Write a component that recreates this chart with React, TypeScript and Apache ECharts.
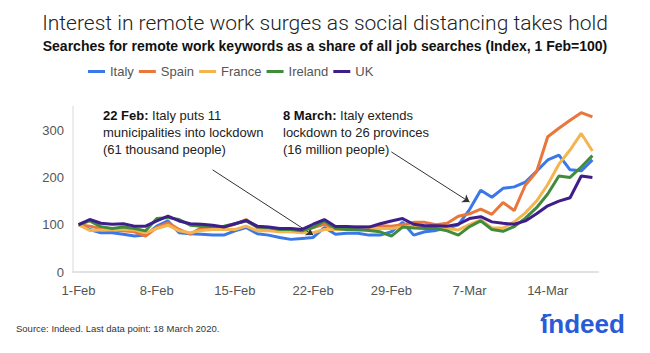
import React, { useEffect, useRef } from 'react';
import * as echarts from 'echarts';

const categories = [
  '1-Feb', '2-Feb', '3-Feb', '4-Feb', '5-Feb', '6-Feb', '7-Feb', '8-Feb', '9-Feb', '10-Feb',
  '11-Feb', '12-Feb', '13-Feb', '14-Feb', '15-Feb', '16-Feb', '17-Feb', '18-Feb', '19-Feb', '20-Feb',
  '21-Feb', '22-Feb', '23-Feb', '24-Feb', '25-Feb', '26-Feb', '27-Feb', '28-Feb', '29-Feb',
  '1-Mar', '2-Mar', '3-Mar', '4-Mar', '5-Mar', '6-Mar', '7-Mar', '8-Mar', '9-Mar', '10-Mar',
  '11-Mar', '12-Mar', '13-Mar', '14-Mar', '15-Mar', '16-Mar', '17-Mar', '18-Mar',
];

const italy = [100, 90, 83, 83, 80, 76, 78, 97, 108, 83, 81, 80, 78, 78, 87, 94, 81, 78, 73, 69, 71, 73, 94, 80, 82, 82, 78, 78, 85, 105, 78, 85, 88, 93, 100, 132, 173, 158, 177, 180, 190, 213, 237, 247, 216, 214, 237];
const spain = [100, 97, 92, 89, 87, 85, 76, 94, 104, 90, 80, 94, 94, 95, 101, 111, 94, 90, 90, 90, 89, 94, 101, 90, 92, 95, 95, 98, 97, 100, 105, 105, 100, 103, 118, 123, 133, 122, 147, 130, 184, 212, 286, 304, 321, 337, 328];
const france = [100, 88, 89, 90, 90, 89, 83, 92, 99, 87, 83, 88, 90, 90, 90, 97, 87, 87, 85, 85, 83, 83, 90, 90, 90, 88, 90, 92, 92, 95, 97, 95, 92, 92, 89, 100, 110, 93, 93, 106, 125, 150, 185, 228, 258, 293, 256];
const ireland = [100, 108, 96, 92, 95, 92, 87, 113, 115, 111, 99, 97, 96, 97, 102, 108, 95, 94, 90, 90, 87, 94, 108, 92, 90, 90, 88, 85, 76, 95, 93, 92, 92, 87, 78, 96, 108, 90, 86, 96, 114, 136, 165, 203, 200, 222, 246];
const uk = [100, 111, 103, 101, 102, 97, 97, 108, 118, 108, 102, 101, 99, 95, 102, 109, 97, 95, 92, 92, 90, 101, 111, 96, 96, 95, 95, 102, 108, 113, 101, 98, 98, 97, 101, 113, 117, 106, 103, 101, 108, 123, 140, 150, 157, 203, 200];

const seriesNames = ['Italy', 'Spain', 'France', 'Ireland', 'UK'];
const seriesValues = [italy, spain, france, ireland, uk];
const seriesColors = ['#3b78e7', '#e9763a', '#f4b550', '#418b3d', '#3f1e8a'];

const FONT = "'Liberation Sans', Arial, Helvetica, sans-serif";

export default function App() {
  const ref = useRef<HTMLDivElement>(null);
  useEffect(() => {
    const chart = echarts.init(ref.current!, null, { renderer: 'svg' });
    const series: any[] = seriesNames.map((name, i) => ({
      name,
      type: 'line',
      data: seriesValues[i],
      symbol: 'none',
      showSymbol: false,
      lineStyle: { width: 3, color: seriesColors[i] },
      itemStyle: { color: seriesColors[i] },
      emphasis: { disabled: true },
      z: 2 + i,
    }));
    series[4].markLine = {
      silent: true,
      symbol: ['none', 'arrow'],
      symbolSize: 7,
      label: { show: false },
      lineStyle: { color: '#333', width: 1, type: 'solid' },
      emphasis: { disabled: true },
      data: [
        [{ coord: ['13-Feb', 216] }, { coord: ['22-Feb', 78] }],
        [{ coord: ['29-Feb', 254] }, { coord: ['7-Mar', 148] }],
      ],
    };
    chart.setOption({
      animation: false,
      backgroundColor: '#ffffff',
      textStyle: { fontFamily: FONT },
      grid: { left: 73, right: 52, top: 106.5, bottom: 81 },
      legend: {
        data: seriesNames,
        left: 88,
        top: 65,
        padding: 0,
        icon: 'rect',
        itemWidth: 17,
        itemHeight: 3,
        itemGap: 5,
        textStyle: { fontSize: 13, color: '#555', fontFamily: FONT },
      },
      xAxis: {
        type: 'category',
        data: categories,
        boundaryGap: true,
        axisTick: { show: false },
        axisLine: { lineStyle: { color: '#e2e2e2', width: 2 } },
        axisLabel: { interval: 6, color: '#555', fontSize: 13, margin: 12, fontFamily: FONT },
        splitLine: { show: false },
      },
      yAxis: {
        type: 'value',
        min: 0,
        max: 350,
        interval: 100,
        axisLine: { show: true, lineStyle: { color: '#e6e6e6', width: 1.5 } },
        axisTick: { show: false },
        splitLine: { show: false },
        axisLabel: {
          color: '#555',
          fontSize: 13,
          margin: 9,
          fontFamily: FONT,
          formatter: (v: number) => (v > 300 ? '' : String(v)),
        },
      },
      series,
      graphic: [
        {
          type: 'text',
          x: 325,
          y: 23,
          style: {
            text: 'Interest in remote work surges as social distancing takes hold',
            fontFamily: "Roboto, 'Liberation Sans', sans-serif",
            fontWeight: 300,
            fontSize: 21,
            fill: '#222',
            textAlign: 'center',
            textVerticalAlign: 'middle',
          },
        },
        {
          type: 'text',
          x: 325,
          y: 46,
          style: {
            text: 'Searches for remote work keywords as a share of all job searches (Index, 1 Feb=100)',
            fontFamily: FONT,
            fontWeight: 'bold',
            fontSize: 14,
            fill: '#111',
            textAlign: 'center',
            textVerticalAlign: 'middle',
          },
        },
        {
          type: 'text',
          x: 103,
          y: 107,
          style: {
            text: '{b|22 Feb:} Italy puts 11\nmunicipalities into lockdown\n(61 thousand people)',
            fontFamily: FONT,
            fontSize: 13,
            lineHeight: 17,
            fill: '#222',
            rich: { b: { fontWeight: 'bold', fontSize: 13, fontFamily: FONT, fill: '#111' } },
          },
        },
        {
          type: 'text',
          x: 283,
          y: 107,
          style: {
            text: '{b|8 March:} Italy extends\nlockdown to 26 provinces\n(16 million people)',
            fontFamily: FONT,
            fontSize: 13,
            lineHeight: 17,
            fill: '#222',
            rich: { b: { fontWeight: 'bold', fontSize: 13, fontFamily: FONT, fill: '#111' } },
          },
        },
        {
          type: 'text',
          x: 16,
          y: 328,
          style: {
            text: 'Source: Indeed. Last data point: 18 March 2020.',
            fontFamily: FONT,
            fontSize: 9.5,
            fill: '#333',
            textVerticalAlign: 'middle',
          },
        },
        {
          type: 'text',
          x: 583,
          y: 337,
          style: {
            text: 'indeed',
            fontFamily: FONT,
            fontWeight: 'bold',
            fontSize: 26,
            fill: '#2a5bd7',
            textAlign: 'center',
            textVerticalAlign: 'bottom',
          },
        },
        {
          type: 'arc',
          shape: { cx: 550, cy: 324, r: 9, startAngle: Math.PI * 1.1, endAngle: Math.PI * 1.55 },
          style: { stroke: '#2a5bd7', lineWidth: 2.5, fill: 'none' },
        },
      ],
    });
    return () => chart.dispose();
  }, []);
  return <div ref={ref} style={{ position: 'fixed', left: 0, top: 0, width: 650, height: 353 }} />;
}
